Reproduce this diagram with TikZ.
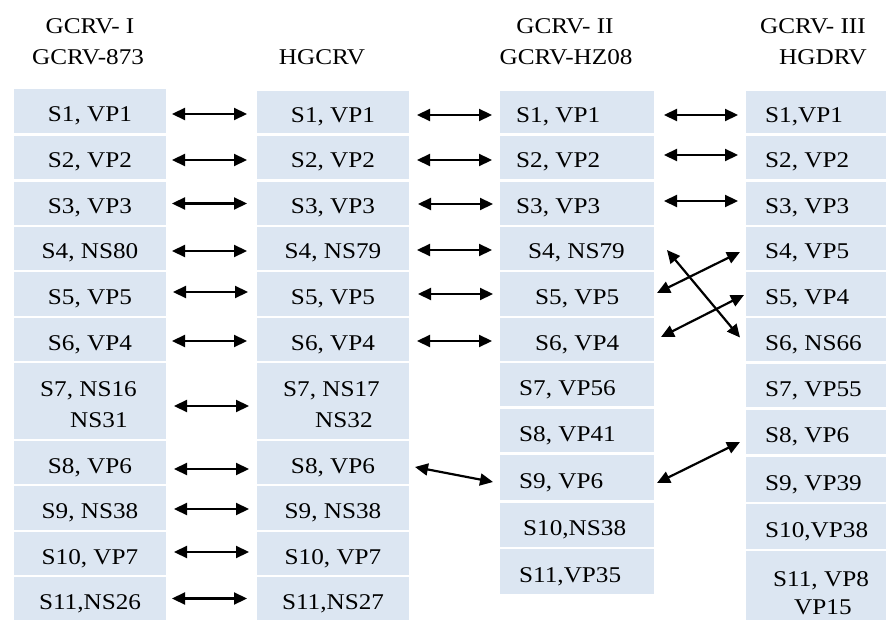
\documentclass[tikz,border=0pt]{standalone}
\usepackage{fontspec}
\setmainfont{Liberation Serif}[FakeStretch=1.12]
\usetikzlibrary{arrows.meta,fit}
\definecolor{cellblue}{HTML}{DCE6F2}
\tikzset{
  cell/.style={fill=cellblue, draw=none, inner sep=0pt, outer sep=0pt},
  lbl/.style={inner sep=0pt, font=\fontsize{22.5}{27}\selectfont, text=black},
  tip/.tip={Triangle[length=13pt,width=12pt]},
  biarrow/.style={line width=2.2pt, tip-tip},
}
% a filled segment cell spanning (x1,y1)-(x2,y2)
\newcommand\mkcell[5]{%
  \path (#2,#3) coordinate (#1-nw) (#4,#5) coordinate (#1-se);
  \node[cell, fit=(#1-nw)(#1-se)] (#1) {};}
% centred and left-set cell labels
\newcommand\ctext[2]{\node[lbl, anchor=base] (#1-t) at ([yshift=-10.5pt]#1.center) {#2};}
\newcommand\ltext[3]{\node[lbl, anchor=base west] (#1-t) at ([xshift=#2, yshift=-10.5pt]#1.west) {#3};}
% horizontal double arrow between two cells of the same row
\newcommand\hlink[5]{\draw[biarrow] ([xshift=#3,yshift=#5]#1.east) -- ([xshift=#4,yshift=#5]#1.east -| #2.west);}
\begin{document}
\begin{tikzpicture}[x=1pt,y=-1pt]
\useasboundingbox (0,0) rectangle (886,620);

% column headings
\node[lbl, anchor=base] (h1a) at (90,33.5) {GCRV- I};
\node[lbl, anchor=base] (h1b) at (88,65) {GCRV-873};
\node[lbl, anchor=base] (h2b) at (322,65) {HGCRV};
\node[lbl, anchor=base] (h3a) at (565,33.5) {GCRV- II};
\node[lbl, anchor=base] (h3b) at (566,65) {GCRV-HZ08};
\node[lbl, anchor=base] (h4a) at (813,33.5) {GCRV- III};
\node[lbl, anchor=base] (h4b) at (823,65) {HGDRV};

% segment cells
\foreach \r/\t/\b in {1/89/133,2/136/179,3/182/225,4/227/270,5/272/316,6/318/361,
                      7/363/439,8/441/484,9/486/530,10/532/575,11/577/620}
  {\mkcell{a\r}{14}{\t}{166}{\b}}
\foreach \r/\t/\b in {1/91/133,2/136/179,3/182/225,4/227/270,5/272/316,6/318/361,
                      7/363/439,8/441/484,9/486/530,10/532/575,11/577/620}
  {\mkcell{b\r}{257}{\t}{409}{\b}}
\foreach \r/\t/\b in {1/91/133,2/136/179,3/182/225,4/227/270,5/272/316,6/318/361,
                      7/363/406,8/409/452,9/455/500,10/503/547,11/549/594}
  {\mkcell{c\r}{500}{\t}{654}{\b}}
\foreach \r/\t/\b in {1/91/133,2/136/179,3/182/225,4/227/270,5/272/316,6/318/361,
                      7/364/407,8/410/454,9/457/502,10/504/549,11/551/620}
  {\mkcell{d\r}{746}{\t}{886}{\b}}

% GCRV-873
\ctext{a1}{S1, VP1}
\ctext{a2}{S2, VP2}
\ctext{a3}{S3, VP3}
\ctext{a4}{S4, NS80}
\ctext{a5}{S5, VP5}
\ctext{a6}{S6, VP4}
\node[lbl, anchor=base west] (a7-t) at ([xshift=26pt,yshift=5pt]a7.west) {S7, NS16};
\node[lbl, anchor=base west] (a7-u) at ([xshift=56pt,yshift=-26pt]a7.west) {NS31};
\ctext{a8}{S8, VP6}
\ctext{a9}{S9, NS38}
\ctext{a10}{S10, VP7}
\ctext{a11}{S11,NS26}

% HGCRV
\ctext{b1}{S1, VP1}
\ctext{b2}{S2, VP2}
\ctext{b3}{S3, VP3}
\ctext{b4}{S4, NS79}
\ctext{b5}{S5, VP5}
\ctext{b6}{S6, VP4}
\node[lbl, anchor=base west] (b7-t) at ([xshift=26pt,yshift=5pt]b7.west) {S7, NS17};
\node[lbl, anchor=base west] (b7-u) at ([xshift=58pt,yshift=-26pt]b7.west) {NS32};
\ctext{b8}{S8, VP6}
\ctext{b9}{S9, NS38}
\ctext{b10}{S10, VP7}
\ctext{b11}{S11,NS27}

% GCRV-HZ08
\ltext{c1}{16pt}{S1, VP1}
\ltext{c2}{16pt}{S2, VP2}
\ltext{c3}{16pt}{S3, VP3}
\ltext{c4}{28pt}{S4, NS79}
\ltext{c5}{35pt}{S5, VP5}
\ltext{c6}{35pt}{S6, VP4}
\ltext{c7}{19pt}{S7, VP56}
\ltext{c8}{19pt}{S8, VP41}
\ltext{c9}{19pt}{S9, VP6}
\ltext{c10}{23pt}{S10,NS38}
\ltext{c11}{19pt}{S11,VP35}

% HGDRV
\ltext{d1}{19pt}{S1,VP1}
\ltext{d2}{19pt}{S2, VP2}
\ltext{d3}{19pt}{S3, VP3}
\ltext{d4}{19pt}{S4, VP5}
\ltext{d5}{19pt}{S5, VP4}
\ltext{d6}{19pt}{S6, NS66}
\ltext{d7}{19pt}{S7, VP55}
\ltext{d8}{19pt}{S8, VP6}
\ltext{d9}{19pt}{S9, VP39}
\ltext{d10}{19pt}{S10,VP38}
\node[lbl, anchor=base west] (d11-t) at ([xshift=27pt,yshift=-0.5pt]d11.west) {S11, VP8};
\node[lbl, anchor=base west] (d11-u) at ([xshift=48pt,yshift=-29pt]d11.west) {VP15};

% GCRV-873 <-> HGCRV
\hlink{a1}{b1}{6pt}{-10pt}{-3pt}
\hlink{a2}{b2}{6pt}{-10pt}{-2.5pt}
\hlink{a3}{b3}{6pt}{-10pt}{0pt}
\hlink{a4}{b4}{6pt}{-10pt}{-2.5pt}
\hlink{a5}{b5}{7pt}{-9pt}{2pt}
\hlink{a6}{b6}{6pt}{-10pt}{-1.5pt}
\hlink{a7}{b7}{8pt}{-8pt}{-5pt}
\hlink{a8}{b8}{8pt}{-8pt}{-6.5pt}
\hlink{a9}{b9}{8pt}{-8pt}{-1pt}
\hlink{a10}{b10}{8pt}{-8pt}{1.5pt}
\hlink{a11}{b11}{6pt}{-10pt}{0pt}

% HGCRV <-> GCRV-HZ08
\hlink{b1}{c1}{8pt}{-8pt}{-3pt}
\hlink{b2}{c2}{8pt}{-8pt}{-2.5pt}
\hlink{b3}{c3}{9pt}{-7pt}{-0.5pt}
\hlink{b4}{c4}{8pt}{-8pt}{-1.5pt}
\hlink{b5}{c5}{9pt}{-7pt}{0pt}
\hlink{b6}{c6}{8pt}{-8pt}{-1.5pt}
\draw[biarrow] ([xshift=6pt,yshift=-4.5pt]b8.east) -- ([xshift=-7pt,yshift=-4.5pt]c9.west);

% GCRV-HZ08 <-> HGDRV
\hlink{c1}{d1}{10pt}{-8pt}{-3pt}
\hlink{c2}{d2}{10pt}{-8pt}{2.5pt}
\hlink{c3}{d3}{10pt}{-8pt}{2.5pt}
\draw[biarrow] ([xshift=13pt,yshift=-1.5pt]c4.east) -- ([xshift=-6pt,yshift=2pt]d6.west);
\draw[biarrow] ([xshift=3pt,yshift=1pt]c5.east) -- ([xshift=-6pt,yshift=-3.5pt]d4.west);
\draw[biarrow] ([xshift=7pt,yshift=2.5pt]c6.east) -- ([xshift=-2pt,yshift=-1pt]d5.west);
\draw[biarrow] ([xshift=3pt,yshift=-5.5pt]c9.east) -- ([xshift=-6pt,yshift=-10pt]d8.west);
\end{tikzpicture}
\end{document}
